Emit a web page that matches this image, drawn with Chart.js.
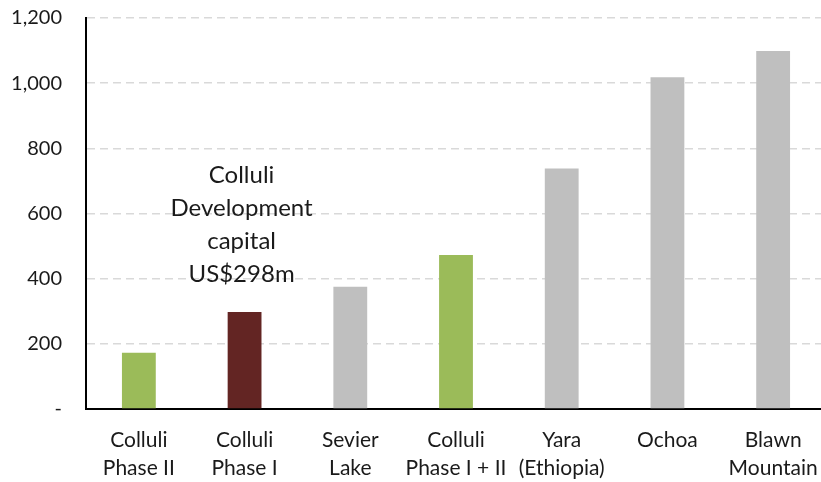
<!DOCTYPE html>
<html>
<head>
<meta charset="utf-8">
<script src="https://cdn.jsdelivr.net/npm/chart.js@4.4.1/dist/chart.umd.min.js"></script>
<style>
  html, body { margin: 0; padding: 0; background: #fff; overflow: hidden; }
  #wrap { width: 826px; height: 482px; }
</style>
</head>
<body>
<div id="wrap"><canvas id="capexChart"></canvas></div>
<script>
// Capital cost comparison (US$m)
const projects = [['Colluli', 'Phase II'], ['Colluli', 'Phase I'], ['Sevier', 'Lake'], ['Colluli', 'Phase I + II'], ['Yara', '(Ethiopia)'], ['Ochoa'], ['Blawn', 'Mountain']];
const capex = [173, 298, 375, 473, 738, 1018, 1099];
const barColors = ['#9bbb59', '#632523', '#bfbfbf', '#9bbb59', '#bfbfbf', '#bfbfbf', '#bfbfbf'];
const yTicks = [0, 200, 400, 600, 800, 1000, 1200];
const noteLines = ['Colluli', 'Development', 'capital', 'US$298m'];

const fontFamily = 'Lato, "Open Sans", sans-serif';

// draws the text note above the Phase I bar
const notePlugin = {
    id: 'note',
    afterDraw(chart) {
        const ctx = chart.ctx;
        const x = chart.scales.x.getPixelForValue(1) - 3;
        const y0 = chart.scales.y.getPixelForValue(718);
        ctx.save();
        ctx.font = '24px ' + fontFamily;
        ctx.fillStyle = '#1a1a1a';
        ctx.textAlign = 'center';
        ctx.textBaseline = 'middle';
        noteLines.forEach((line, i) => ctx.fillText(line, x, y0 + i * 33));
        ctx.restore();
    }
};

new Chart(document.getElementById('capexChart'), {
    type: 'bar',
    data: {
        labels: projects,
        datasets: [{
            data: capex,
            backgroundColor: barColors,
            barPercentage: 0.32,
            categoryPercentage: 1
        }]
    },
    options: {
        responsive: true,
        maintainAspectRatio: false,
        animation: false,
        layout: { padding: 0 },
        scales: {
            x: {
                grid: { display: false },
                border: { color: '#000', width: 2 },
                afterFit: (axis) => {
                    axis.height = 73;
                    axis.paddingLeft = 0;
                    axis.paddingRight = 0;
                },
                ticks: { color: '#1a1a1a', font: { family: fontFamily, size: 21, lineHeight: 1.35 }, padding: 9, maxRotation: 0, autoSkip: false }
            },
            y: {
                min: 0,
                max: 1200,
                afterBuildTicks: (axis) => { axis.ticks = yTicks.map(v => ({ value: v })); },
                afterFit: (axis) => {
                    axis.width = 86;
                    axis.paddingTop = 18;
                    axis.paddingBottom = 0;
                },
                grid: { color: '#d9d9d9', lineWidth: 1.5, drawTicks: false },
                border: { color: '#000', width: 2, dash: [8, 5] },
                ticks: {
                    color: '#1a1a1a',
                    padding: 24,
                    font: { family: fontFamily, size: 20 },
                    callback: (v) => v === 0 ? '-' : v.toLocaleString('en-US')
                }
            }
        },
        plugins: {
            legend: { display: false },
            tooltip: { enabled: false }
        }
    },
    plugins: [notePlugin]
});
</script>
</body>
</html>
